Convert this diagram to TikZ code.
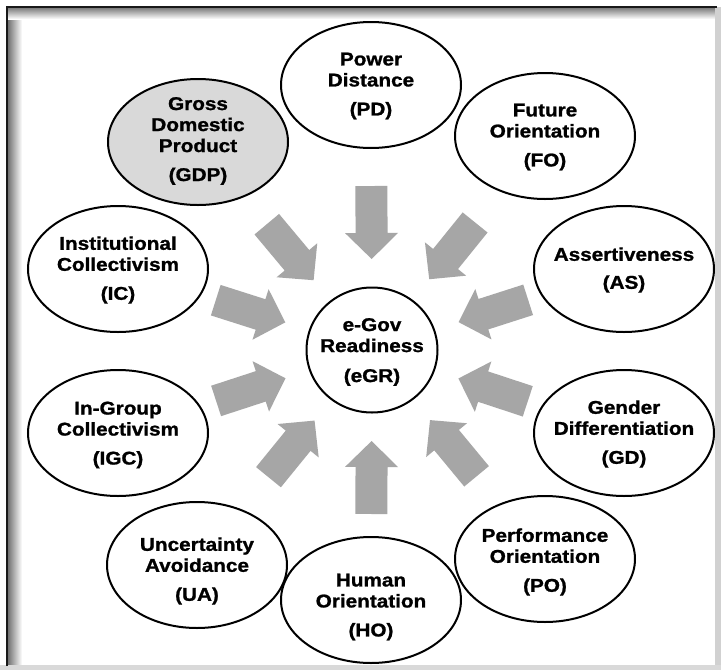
\documentclass[tikz,border=0pt]{standalone}
\usepackage{fontspec}
\newfontfamily\lblfont{Liberation Sans}[FakeStretch=1.12, BoldFeatures={FakeBold=1.2}]
\usetikzlibrary{shapes.geometric,calc}
\definecolor{arrowgray}{RGB}{166,166,166}
\definecolor{gdpgray}{RGB}{217,217,217}
\tikzset{
  factor/.style={draw=black, line width=2pt, ellipse, minimum width=180pt, minimum height=126pt, inner sep=0pt},
  core/.style={draw=black, line width=2pt, ellipse, minimum width=131pt, minimum height=125pt, inner sep=0pt},
  lbl/.style={align=center, font=\lblfont\bfseries\fontsize{18.5}{21}\selectfont, inner sep=0pt},
  blockfill/.style={fill=arrowgray},
}
\newcommand{\blockarr}[1]{%
  \coordinate (#1-tail) at ($(c)!164pt!(#1)$);
  \coordinate (#1-head) at ($(c)!117pt!(#1)$);
  \coordinate (#1-tip) at ($(c)!91pt!(#1)$);
  \fill[blockfill] ($(#1-tail)!16pt!90:(c)$) -- ($(#1-head)!16pt!90:(c)$) -- ($(#1-head)!26.5pt!90:(c)$) -- (#1-tip)
     -- ($(#1-head)!26.5pt!-90:(c)$) -- ($(#1-head)!16pt!-90:(c)$) -- ($(#1-tail)!16pt!-90:(c)$) -- cycle;
}
\begin{document}
\begin{tikzpicture}[x=1pt,y=-1pt]
\useasboundingbox (0,0) rectangle (721,670);
% frame
\fill[white] (0,0) rectangle (721,670);
\shade[left color=black!55, right color=white] (8,8) rectangle (22,666);
\shade[top color=black!50, bottom color=white] (8,8) rectangle (717,19);
\fill[black!18] (715,7) rectangle (721,670);
\fill[black!15] (0,665) rectangle (721,670);
\draw[line width=2pt, black!90] (7,666) -- (7,7) -- (717,7);

% centre
\node[core] (c) at (372,350) {};
\node[lbl] (cl) at (372,352) {e-Gov\\Readiness\\[9pt](eGR)};

% factors
\node[factor] (pd) at (371,85) {};
\node[factor] (fo) at (545,136) {};
\node[factor] (as) at (624,269) {};
\node[factor] (gd) at (624,433) {};
\node[factor] (po) at (545,559) {};
\node[factor] (ho) at (371,600) {};
\node[factor] (ua) at (197,565) {};
\node[factor] (igc) at (118,433) {};
\node[factor] (ic) at (118,269) {};
\node[factor, fill=gdpgray] (gdp) at (198,142) {};

\node[lbl] (pdl) at (371,86) {Power\\Distance\\[8pt](PD)};
\node[lbl] (fol) at (545,137) {Future\\Orientation\\[8pt](FO)};
\node[lbl] (asl) at (624,270) {Assertiveness\\[7pt](AS)};
\node[lbl] (gdl) at (624,434) {Gender\\Differentiation\\[8pt](GD)};
\node[lbl] (pol) at (545,562) {Performance\\Orientation\\[8pt](PO)};
\node[lbl] (hol) at (371,607) {Human\\Orientation\\[8pt](HO)};
\node[lbl] (ual) at (197,571) {Uncertainty\\Avoidance\\[8pt](UA)};
\node[lbl] (igcl) at (118,435) {In-Group\\Collectivism\\[8pt](IGC)};
\node[lbl] (icl) at (118,270) {Institutional\\Collectivism\\[8pt](IC)};
\node[lbl] (gdpl) at (198,141) {Gross\\Domestic\\Product\\[8pt](GDP)};

% block arrows
\blockarr{pd}
\blockarr{fo}
\blockarr{as}
\blockarr{gd}
\blockarr{po}
\blockarr{ho}
\blockarr{ua}
\blockarr{igc}
\blockarr{ic}
\blockarr{gdp}
\end{tikzpicture}
\end{document}
